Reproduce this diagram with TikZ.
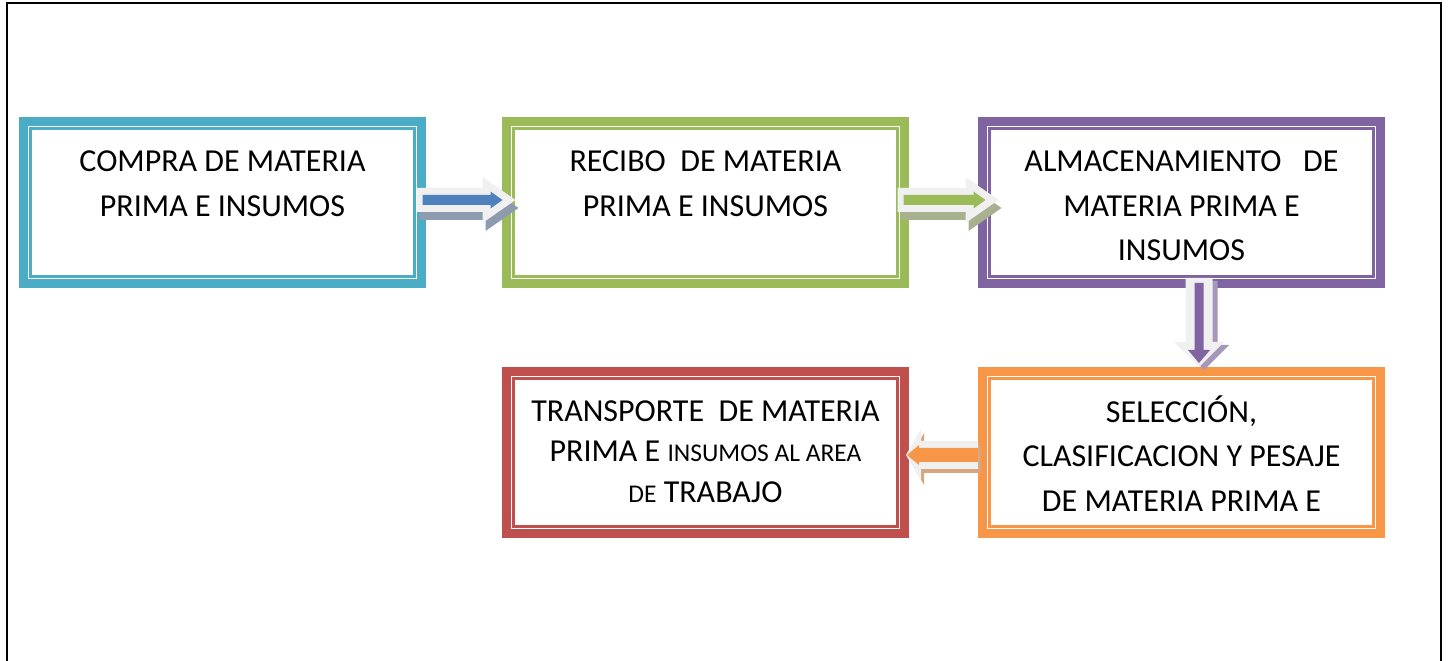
\documentclass[tikz,border=0pt]{standalone}
\usepackage{fontspec}
\setmainfont{Carlito}
\usetikzlibrary{calc}
\definecolor{cblue}{HTML}{4BACC6}
\definecolor{cgreen}{HTML}{9BBB59}
\definecolor{cpurple}{HTML}{8064A2}
\definecolor{corange}{HTML}{F79646}
\definecolor{cred}{HTML}{C0504D}
\definecolor{ablue}{HTML}{4F81BD}
\definecolor{agrey}{HTML}{F0F0F0}
\definecolor{sblue}{HTML}{8E9AAE}
\definecolor{sgreen}{HTML}{A7B08F}
\definecolor{spurple}{HTML}{A497BA}
\definecolor{sorange}{HTML}{D6A680}
\pgfkeys{/barrow/.cd,
  L/.initial=100, gh/.initial=33, gw/.initial=23, gs/.initial=12,
  ib/.initial=6, ih/.initial=12, it/.initial=13, iw/.initial=8.5, is/.initial=5,
  col/.initial=black, scol/.initial=gray, sx/.initial=3, sy/.initial=-8, angle/.initial=0}
\newcommand\blockarrow[2]{%
  \begingroup
  \pgfkeys{/barrow/.cd,#2}%
  \edef\baL{\pgfkeysvalueof{/barrow/L}}%
  \edef\baGH{\pgfkeysvalueof{/barrow/gh}}%
  \edef\baGW{\pgfkeysvalueof{/barrow/gw}}%
  \edef\baGS{\pgfkeysvalueof{/barrow/gs}}%
  \edef\baIB{\pgfkeysvalueof{/barrow/ib}}%
  \edef\baIH{\pgfkeysvalueof{/barrow/ih}}%
  \edef\baIT{\pgfkeysvalueof{/barrow/it}}%
  \edef\baIW{\pgfkeysvalueof{/barrow/iw}}%
  \edef\baIS{\pgfkeysvalueof{/barrow/is}}%
  \edef\baC{\pgfkeysvalueof{/barrow/col}}%
  \edef\baSC{\pgfkeysvalueof{/barrow/scol}}%
  \edef\baSX{\pgfkeysvalueof{/barrow/sx}}%
  \edef\baSY{\pgfkeysvalueof{/barrow/sy}}%
  \edef\baA{\pgfkeysvalueof{/barrow/angle}}%
  \fill[\baSC, shift={(#1)}, shift={(\baSX,\baSY)}, rotate=\baA]
    (0,-\baGS) -- ({\baL-\baGH},-\baGS) -- ({\baL-\baGH},-\baGW) -- (\baL,0)
    -- ({\baL-\baGH},\baGW) -- ({\baL-\baGH},\baGS) -- (0,\baGS) -- cycle;
  \fill[agrey, shift={(#1)}, rotate=\baA]
    (0,-\baGS) -- ({\baL-\baGH},-\baGS) -- ({\baL-\baGH},-\baGW) -- (\baL,0)
    -- ({\baL-\baGH},\baGW) -- ({\baL-\baGH},\baGS) -- (0,\baGS) -- cycle;
  \fill[\baC, shift={(#1)}, rotate=\baA]
    (\baIB,-\baIS) -- ({\baL-\baIT-\baIH},-\baIS) -- ({\baL-\baIT-\baIH},-\baIW) -- ({\baL-\baIT},0)
    -- ({\baL-\baIT-\baIH},\baIW) -- ({\baL-\baIT-\baIH},\baIS) -- (\baIB,\baIS) -- cycle;
  \endgroup}
\tikzset{
  box/.style={draw=#1, line width=9pt, minimum width=398pt, minimum height=162pt,
    inner sep=0pt, outer sep=0pt, fill=white},
  inner/.style={draw=#1, line width=2.2pt},
  txt/.style={font=\fontsize{32}{44.5}\selectfont, align=center, inner sep=0pt,
    anchor=north, execute at begin node=\strut},
}
\begin{document}
\begin{tikzpicture}[x=1pt,y=1pt]
\useasboundingbox (0,0) rectangle (1449,661);
% outer frame
\draw[line width=2pt] (6.5,-5) -- (6.5,657.5) -- (1441,657.5) -- (1441,-5);
% boxes
\node[box=cblue]   (b1) at (222.5,458.5) {};
\node[box=cgreen]  (b2) at (705.5,458.5) {};
\node[box=cpurple] (b3) at (1181.5,458.5) {};
\node[box=corange] (b4) at (1181.5,208.5) {};
\node[box=cred]    (b5) at (705.5,208.5) {};
\foreach \n/\c in {b1/cblue,b2/cgreen,b3/cpurple,b4/corange,b5/cred}
  \draw[inner=\c] ($(\n.north west)+(7,-7)$) rectangle ($(\n.south east)+(-7,7)$);
% texts
\node[txt] (t1) at ($(b1.north)+(0,-29.5)$) {COMPRA DE MATERIA\\PRIMA E INSUMOS};
\node[txt] (t2) at ($(b2.north)+(0,-29.5)$) {RECIBO\ \ DE MATERIA\\PRIMA E INSUMOS};
\node[txt] (t3) at ($(b3.north)+(0,-29.5)$) {ALMACENAMIENTO\ \ \ DE\\MATERIA PRIMA E\\INSUMOS};
\node[txt] (t4) at ($(b4.north)+(0,-24)$) {SELECCIÓN,\\CLASIFICACION Y PESAJE\\DE MATERIA PRIMA E};
\node[txt, font=\fontsize{32}{40.5}\selectfont] (t5) at ($(b5.north)+(0,-29)$)
  {TRANSPORTE\ \ DE MATERIA\\PRIMA E {\fontsize{25.5}{40.5}\selectfont INSUMOS AL AREA}\\{\fontsize{25.5}{40.5}\selectfont DE} TRABAJO};
% connectors
\coordinate (a1) at ($(b1.east)+(-5,2.5)$);
\coordinate (a2) at ($(b2.east)+(-7,2.5)$);
\coordinate (a3) at ($(b3.south)+(17.5,5.5)$);
\coordinate (a4) at ($(b4.west)+(-4.5,-2.5)$);
\blockarrow{a1}{L=99, col=ablue, scol=sblue}
\blockarrow{a2}{L=101, col=cgreen, scol=sgreen}
\blockarrow{a3}{angle=-90, L=89, gh=25, gw=25, gs=13.5, ib=5, ih=13, it=4, iw=11, is=4.5,
  col=cpurple, scol=spurple, sx=5, sy=-3}
\blockarrow{a4}{angle=180, L=72, gh=15, gw=26, gs=14, ib=0, ih=12, it=1, iw=10, is=7,
  col=corange, scol=sorange, sx=3, sy=-4}
\end{tikzpicture}
\end{document}
